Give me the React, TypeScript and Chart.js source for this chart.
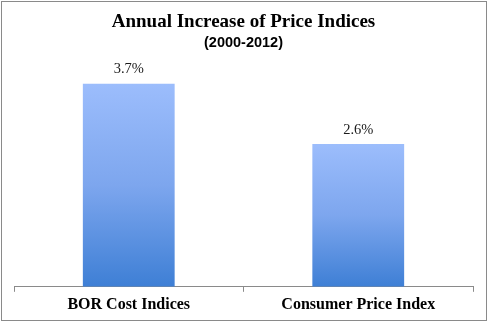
import React, { useEffect, useRef } from "react";
import { Chart, registerables } from "chart.js";

Chart.register(...registerables);

const categories = ["BOR Cost Indices", "Consumer Price Index"];
const values = [3.7, 2.6];
const valueLabels = ["3.7%", "2.6%"];
const titleText = "Annual Increase of Price Indices";
const subtitleText = "(2000-2012)";

const frame = {
  id: "frame",
  beforeDraw(chart: any) {
    const { ctx, width, height } = chart;
    ctx.save();
    ctx.fillStyle = "#ffffff";
    ctx.fillRect(0, 0, width, height);
    ctx.strokeStyle = "#8a8a8a";
    ctx.lineWidth = 1;
    ctx.strokeRect(1.5, 1.5, width - 4, height - 5);
    ctx.restore();
  },
};

const barLabels = {
  id: "barLabels",
  afterDatasetsDraw(chart: any) {
    const { ctx } = chart;
    const meta = chart.getDatasetMeta(0);
    ctx.save();
    ctx.font = "14.5px 'Liberation Serif', serif";
    ctx.fillStyle = "#1a1a1a";
    ctx.textAlign = "center";
    ctx.textBaseline = "middle";
    meta.data.forEach((bar: any, i: number) => {
      ctx.fillText(valueLabels[i], bar.x, bar.y - 14);
    });
    ctx.restore();
  },
};

export default function App() {
  const ref = useRef<HTMLCanvasElement>(null);
  useEffect(() => {
    const chart = new Chart(ref.current!, {
      type: "bar",
      data: {
        labels: categories,
        datasets: [
          {
            data: values,
            backgroundColor: (c: any) => {
              const ch = c.chart;
              const y = ch.scales?.y;
              if (!y || typeof c.raw !== "number") return "#7DA6EE";
              const top = y.getPixelForValue(c.raw);
              const bottom = y.getPixelForValue(0);
              if (!isFinite(top) || !isFinite(bottom) || top === bottom) return "#7DA6EE";
              const g = ch.ctx.createLinearGradient(0, top, 0, bottom);
              g.addColorStop(0, "#9CBDFC");
              g.addColorStop(0.5, "#7DA6EE");
              g.addColorStop(1, "#3E7FD5");
              return g;
            },
            borderWidth: 0,
            barPercentage: 1,
            categoryPercentage: 0.4,
          },
        ],
      },
      options: {
        responsive: false,
        animation: false,
        devicePixelRatio: 1,
        layout: { padding: { left: 14, right: 16, top: 0, bottom: 7 } },
        plugins: {
          legend: { display: false },
          tooltip: { enabled: false },
          title: {
            display: true,
            text: titleText,
            color: "#000",
            font: { family: "'Liberation Serif', serif", size: 19, weight: "bold" },
            padding: { top: 11, bottom: 0 },
          },
          subtitle: {
            display: true,
            text: subtitleText,
            color: "#000",
            font: { family: "'Liberation Sans', Arial, sans-serif", size: 14.5, weight: "bold" },
            padding: { top: 0, bottom: 16 },
          },
        },
        scales: {
          x: {
            grid: {
              display: true,
              drawOnChartArea: false,
              drawTicks: true,
              tickLength: 5,
              color: "#8a8a8a",
              offset: true,
            },
            border: { display: true, color: "#8a8a8a", width: 1 },
            ticks: {
              color: "#000",
              padding: 3,
              font: { family: "'Liberation Serif', serif", size: 16, weight: "bold" },
            },
          },
          y: {
            display: false,
            min: 0,
            max: 4,
          },
        },
      },
      plugins: [frame, barLabels],
    });
    return () => chart.destroy();
  }, []);
  return (
    <div style={{ position: "absolute", left: 0, top: 0, width: 489, height: 324 }}>
      <canvas ref={ref} width={489} height={324} style={{ width: 489, height: 324, display: "block" }} />
    </div>
  );
}
